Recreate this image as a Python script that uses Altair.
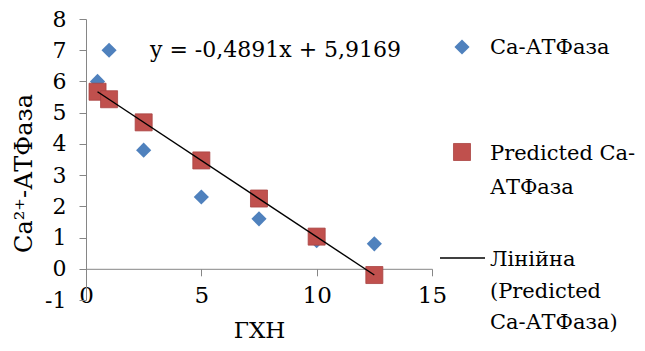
import altair as alt
import pandas as pd

# ---- data ----
x_vals = [0.5, 1, 2.5, 5, 7.5, 10, 12.5]
atp_vals = [6.0, 7.0, 3.8, 2.3, 1.6, 0.9, 0.8]
pred_vals = [5.67, 5.43, 4.69, 3.47, 2.25, 1.03, -0.20]
trend_x = [0.5, 12.5]
trend_y = [5.67, -0.20]
x_ticks = [0, 5, 10, 15]
y_ticks = [-1, 0, 1, 2, 3, 4, 5, 6, 7, 8]
x_title = "ГХН"
y_title = "Ca²⁺-АТФаза"
equation = "y = -0,4891x + 5,9169"
legend_series = ["Ca-АТФаза"]
legend_pred = ["Predicted Ca-", "АТФаза"]
legend_trend = ["Лінійна", "(Predicted", "Ca-АТФаза)"]

FONT = "DejaVu Serif"
BLUE = "#4F81BD"
RED = "#C0504D"
GRAY = "#868686"

df = pd.DataFrame({"x": x_vals, "atp": atp_vals, "pred": pred_vals})
tr = pd.DataFrame({"x": trend_x, "y": trend_y})
one = pd.DataFrame({"k": [0]})

xs = alt.Scale(domain=[0, 15], nice=False)
ys = alt.Scale(domain=[-1, 8], nice=False)

xaxis = alt.Axis(values=x_ticks, offset=-31.2, grid=False, domainColor=GRAY,
                 tickColor=GRAY, tickSize=7, labelFont=FONT, labelFontSize=23,
                 labelColor="black", labelPadding=9, labelFlush=False,
                 title=x_title, titleFont=FONT, titleFontSize=23,
                 titleFontWeight="normal", titleColor="black",
                 titleY=69, titleBaseline="alphabetic")
yaxis = alt.Axis(values=y_ticks, grid=False, domainColor=GRAY, tickColor=GRAY,
                 tickSize=7, labelFont=FONT, labelFontSize=22, labelColor="black",
                 labelPadding=13, labelExpr="replace(datum.label, '−', '-')",
                 title=y_title, titleFont=FONT, titleFontSize=24,
                 titleFontWeight="normal", titleColor="black",
                 titleX=-55, titleY=154, titleBaseline="alphabetic")

def X(f):
    return alt.X(f, type="quantitative", scale=xs, axis=xaxis)

def Y(f):
    return alt.Y(f, type="quantitative", scale=ys, axis=yaxis)

pts_a = alt.Chart(df).mark_point(shape="diamond", filled=True, size=230,
                                 color=BLUE, opacity=1).encode(x=X("x"), y=Y("atp"))
pts_p = alt.Chart(df).mark_point(shape="square", filled=True, size=290,
                                 color=RED, opacity=1, stroke="#A94442",
                                 strokeWidth=0.8).encode(x=X("x"), y=Y("pred"))
trend = alt.Chart(tr).mark_line(color="black", strokeWidth=1.4).encode(x=X("x"), y=Y("y"))

def txt(s, px, py, size=21):
    return alt.Chart(one).mark_text(align="left", baseline="middle", font=FONT,
                                    fontSize=size, color="black").encode(
        x=alt.value(px), y=alt.value(py), text=alt.value(s))

# legend/equation positions are relative to the plot's top-left (page 86, 19)
layers = [pts_a, pts_p, trend, txt(equation, 64, 31, 22)]

layers.append(alt.Chart(one).mark_point(shape="diamond", filled=True, size=230,
                                        color=BLUE, opacity=1).encode(
    x=alt.value(376), y=alt.value(28)))
layers.append(txt(legend_series[0], 404, 29))
layers.append(alt.Chart(one).mark_point(shape="square", filled=True, size=290,
                                        color=RED, opacity=1, stroke="#A94442",
                                        strokeWidth=0.8).encode(
    x=alt.value(376), y=alt.value(133)))
for i, s in enumerate(legend_pred):
    layers.append(txt(s, 404, 135 + 34 * i))
layers.append(alt.Chart(one).mark_rule(color="black", strokeWidth=1.4).encode(
    x=alt.value(354), x2=alt.value(399), y=alt.value(239)))
for i, s in enumerate(legend_trend):
    layers.append(txt(s, 404, 241 + 31.5 * i))

chart = alt.layer(*layers).properties(
    width=346, height=281,
    autosize=alt.AutoSizeParams(type="none"),
    padding={"left": 78, "top": 11, "right": 205, "bottom": 43},
).configure_view(stroke=None)

chart.save("out.html", embed_options={"renderer": "svg", "actions": False})
